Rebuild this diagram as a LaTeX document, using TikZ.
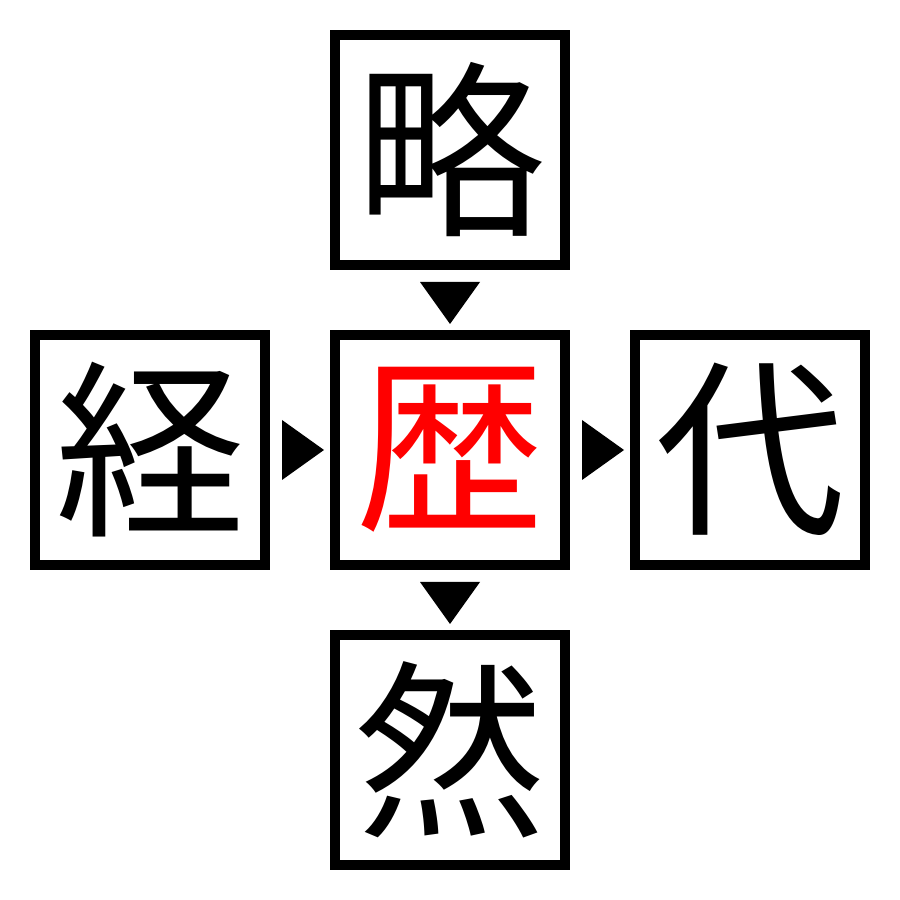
\documentclass[tikz,border=0pt]{standalone}
\usepackage{fontspec}
\newfontfamily\jpfont{Noto Sans CJK JP}
\usepackage{tikz}
\usetikzlibrary{calc}
\tikzstyle{kanjibox}=[rectangle,draw=black,fill=white,line width=1mm,minimum size=2.3cm,inner sep=0pt,outer sep=0pt,font=\jpfont\fontsize{54}{54}\selectfont]
\tikzstyle{marker}=[fill=black]
\begin{document}
\begin{tikzpicture}

  \def\u{3};
  \useasboundingbox (0,0) rectangle (9,9);

   \foreach \x/\y/\name/\label in {1.5/2.5/top/略, 0.5/1.5/left/経, 2.5/1.5/right/代, 1.5/0.5/bottom/然}
          \node[kanjibox] (\name) at (\x*\u, \y*\u) {\label};

   \node[kanjibox, text=red] (mid) at (1.5*\u, 1.5*\u) {歴};

  \foreach \source/ \dest /\angle in {top/mid/-90, left/mid/0, mid/right/0, mid/bottom/-90}
         \fill[marker, shift={($(\source)!0.5!(\dest)$)}, rotate=\angle] (-0.18,0.3) -- (0.24,0) -- (-0.18,-0.3) -- cycle;

   \end{tikzpicture}
\end{document}
